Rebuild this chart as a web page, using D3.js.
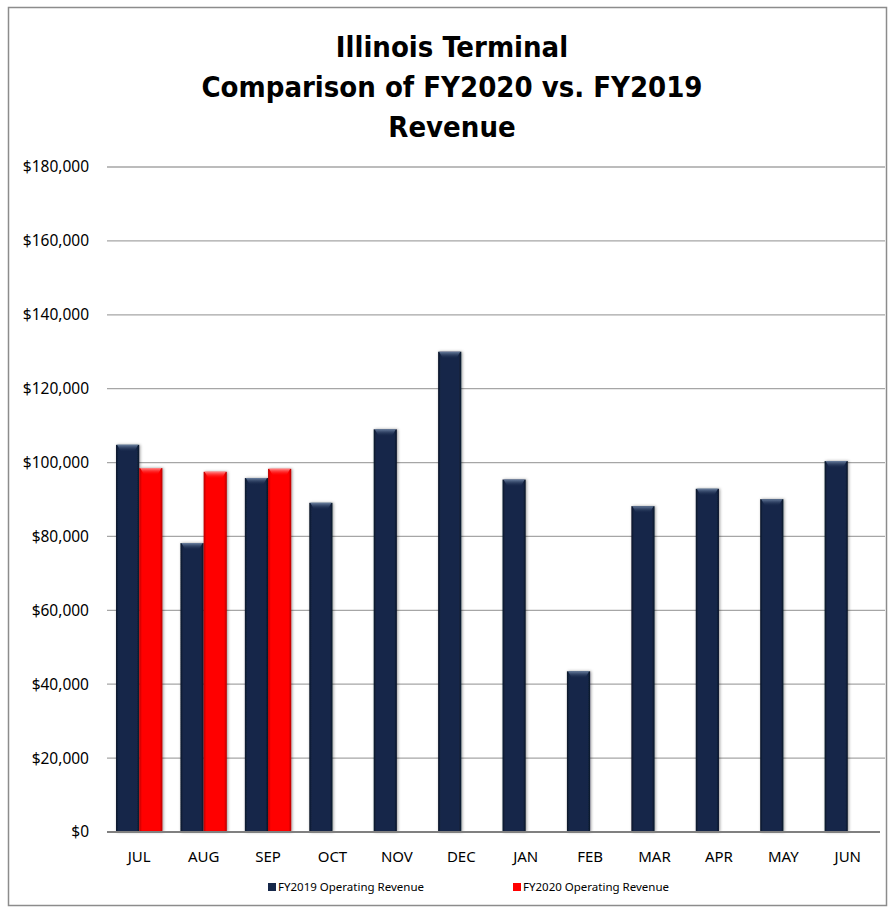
<!DOCTYPE html>
<html>
<head>
<meta charset="utf-8">
<script src="https://cdn.jsdelivr.net/npm/d3@7"></script>
<style>
  body { margin: 0; background: #fff; }
  text { font-family: "Noto Sans", "Open Sans", sans-serif; }
</style>
</head>
<body>
<div id="chart"></div>
<script>
// data
const months = ["JUL", "AUG", "SEP", "OCT", "NOV", "DEC", "JAN", "FEB", "MAR", "APR", "MAY", "JUN"];
const fy2019 = [104800, 78200, 95800, 89100, 109000, 130000, 95400, 43500, 88200, 92900, 90100, 100400];
const fy2020 = [98500, 97500, 98300];
const seriesNames = ["FY2019 Operating Revenue", "FY2020 Operating Revenue"];
const yTicks = [0, 20000, 40000, 60000, 80000, 100000, 120000, 140000, 160000, 180000];
const titleLines = ["Illinois Terminal", "Comparison of FY2020 vs. FY2019", "Revenue"];

const width = 888;
const height = 912;
const plot = { left: 107, right: 880, top: 167, bottom: 832 };

const svg = d3.select("#chart")
    .append("svg")
    .attr("width", width)
    .attr("height", height);

const defs = svg.append("defs");

function barGradient(id, edge, mid) {
    const g = defs.append("linearGradient").attr("id", id)
        .attr("x1", "0").attr("x2", "1").attr("y1", "0").attr("y2", "0");
    g.append("stop").attr("offset", "0").attr("stop-color", edge);
    g.append("stop").attr("offset", "0.12").attr("stop-color", mid);
    g.append("stop").attr("offset", "0.88").attr("stop-color", mid);
    g.append("stop").attr("offset", "1").attr("stop-color", edge);
}
function capGradient(id, light, mid) {
    const g = defs.append("linearGradient").attr("id", id)
        .attr("x1", "0").attr("x2", "0").attr("y1", "0").attr("y2", "1");
    g.append("stop").attr("offset", "0").attr("stop-color", light);
    g.append("stop").attr("offset", "1").attr("stop-color", mid).attr("stop-opacity", 0);
}
barGradient("blueBar", "#0b1628", "#16284a");
barGradient("redBar", "#b80000", "#ff0000");
capGradient("blueCap", "#6a7f9f", "#16284a");
capGradient("redCap", "#ff8a8a", "#ff0000");

const shadow = defs.append("filter").attr("id", "shadow")
    .attr("x", "-30%").attr("y", "-10%").attr("width", "160%").attr("height", "120%");
shadow.append("feDropShadow").attr("dx", 1).attr("dy", 0).attr("stdDeviation", 1.6)
    .attr("flood-color", "#000").attr("flood-opacity", 0.4);

// outer frame
svg.append("rect")
    .attr("x", 8.5).attr("y", 7.5)
    .attr("width", 878).attr("height", 898)
    .attr("fill", "none")
    .attr("stroke", "#8c8c8c")
    .attr("stroke-width", 1.5);

// title
svg.append("g").selectAll("text")
    .data(titleLines)
    .enter()
    .append("text")
    .attr("x", 452)
    .attr("y", (d, i) => 57 + i * 40)
    .attr("text-anchor", "middle")
    .style("font-family", "'Liberation Sans Narrow', 'DejaVu Sans Condensed', 'Noto Sans', sans-serif")
    .style("font-weight", "bold")
    .style("font-size", "29px")
    .attr("fill", "#000")
    .text(d => d);

const x0 = d3.scaleBand()
    .domain(months)
    .range([plot.left, plot.right])
    .paddingInner(0.28)
    .paddingOuter(0.14);

const x1 = d3.scaleBand()
    .domain([0, 1])
    .range([0, x0.bandwidth()]);

const y = d3.scaleLinear()
    .domain([0, 180000])
    .range([plot.bottom, plot.top]);

// grid lines
svg.append("g").selectAll("line")
    .data(yTicks.filter(d => d > 0))
    .enter()
    .append("line")
    .attr("x1", plot.left).attr("x2", plot.right + 5)
    .attr("y1", d => y(d)).attr("y2", d => y(d))
    .attr("stroke", "#a6a6a6")
    .attr("stroke-width", 1.3);

// y axis labels
svg.append("g").selectAll("text")
    .data(yTicks)
    .enter()
    .append("text")
    .attr("x", 89)
    .attr("y", d => y(d))
    .attr("dy", "0.35em")
    .attr("text-anchor", "end")
    .style("font-size", "15.5px")
    .attr("fill", "#000")
    .text(d => "$" + d3.format(",")(d));

// bars
const bars = [];
months.forEach((m, i) => {
    bars.push({ month: m, s: 0, value: fy2019[i] });
    if (fy2020[i] !== undefined) bars.push({ month: m, s: 1, value: fy2020[i] });
});

const barG = svg.append("g").selectAll("g")
    .data(bars)
    .enter()
    .append("g")
    .attr("transform", d => `translate(${x0(d.month) + x1(d.s)},0)`);

barG.append("rect")
    .attr("x", 0)
    .attr("y", d => y(d.value))
    .attr("width", x1.bandwidth())
    .attr("height", d => y(0) - y(d.value))
    .attr("fill", d => d.s === 0 ? "url(#blueBar)" : "url(#redBar)")
    .attr("filter", "url(#shadow)");

barG.append("path")
    .attr("d", d => {
        const w = x1.bandwidth(), t = y(d.value);
        return `M1,${t} L${w - 1},${t} L${w - 5},${t + 7} L5,${t + 7} Z`;
    })
    .attr("fill", d => d.s === 0 ? "url(#blueCap)" : "url(#redCap)");

// baseline
svg.append("line")
    .attr("x1", plot.left).attr("x2", plot.right)
    .attr("y1", y(0)).attr("y2", y(0))
    .attr("stroke", "#808080")
    .attr("stroke-width", 2);

// x labels
svg.append("g").selectAll("text")
    .data(months)
    .enter()
    .append("text")
    .attr("x", d => x0(d) + x0.bandwidth() / 2)
    .attr("y", 857)
    .attr("dy", "0.35em")
    .attr("text-anchor", "middle")
    .style("font-size", "15px")
    .attr("fill", "#000")
    .text(d => d);

// legend
const legendX = [268, 513];
const legendColors = ["#16284a", "#ff0000"];
const legend = svg.append("g").selectAll("g")
    .data(seriesNames)
    .enter()
    .append("g")
    .attr("transform", (d, i) => `translate(${legendX[i]},887)`);

legend.append("rect")
    .attr("x", 0).attr("y", -4)
    .attr("width", 8).attr("height", 8)
    .attr("fill", (d, i) => legendColors[i]);

legend.append("text")
    .attr("x", 10)
    .attr("dy", "0.35em")
    .style("font-size", "11.5px")
    .attr("fill", "#000")
    .text(d => d);
</script>
</body>
</html>
